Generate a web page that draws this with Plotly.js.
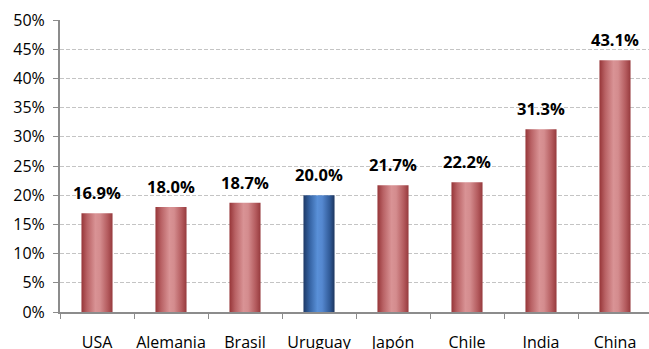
<!DOCTYPE html>
<html>
<head>
<meta charset="utf-8">
<script src="https://cdn.plot.ly/plotly-3.0.1.min.js"></script>
<style>
  html, body { margin: 0; padding: 0; overflow: hidden; background: #fff; }
  #chart { width: 652px; height: 349px; }
</style>
</head>
<body>
<div id="chart"></div>
<script>
// Country categories and their percentage values
const countries = ['USA', 'Alemania', 'Brasil', 'Uruguay', 'Japón', 'Chile', 'India', 'China'];
const values = [16.9, 18.0, 18.7, 20.0, 21.7, 22.2, 31.3, 43.1];
const highlight = 'Uruguay';
const yTickVals = [0, 5, 10, 15, 20, 25, 30, 35, 40, 45, 50];
const yTickText = yTickVals.map(v => v + '%');

const fontFamily = '"Open Sans", Lato, "DejaVu Sans", sans-serif';

const barColors = countries.map(c => c === highlight ? '#3c6fb4' : '#b85a5c');

const trace = {
  type: 'bar',
  x: countries,
  y: values,
  width: 0.42,
  marker: { color: barColors, line: { width: 0 } },
  hoverinfo: 'skip'
};

const annotations = countries.map((c, i) => ({
  x: c,
  y: values[i],
  xref: 'x',
  yref: 'y',
  text: '<b>' + values[i].toFixed(1) + '%</b>',
  showarrow: false,
  yanchor: 'bottom',
  yshift: 7,
  font: { family: fontFamily, size: 16.5, color: '#000' }
}));

const layout = {
  width: 652,
  height: 349,
  margin: { l: 60, r: 0, t: 20, b: 37 },
  paper_bgcolor: '#fff',
  plot_bgcolor: '#fff',
  showlegend: false,
  xaxis: {
    type: 'category',
    range: [-0.5, 7.5],
    showline: true,
    linecolor: '#8c8c8c',
    linewidth: 2,
    ticks: 'outside',
    tickson: 'boundaries',
    ticklen: 5,
    tickcolor: '#8c8c8c',
    tickwidth: 1,
    tickangle: 0,
    ticklabelstandoff: 15,
    showgrid: false,
    zeroline: false,
    tickfont: { family: fontFamily, size: 16, color: '#000' },
    fixedrange: true
  },
  yaxis: {
    range: [0, 50],
    tickvals: yTickVals,
    ticktext: yTickText,
    showline: true,
    linecolor: '#8c8c8c',
    linewidth: 2,
    ticks: 'outside',
    ticklen: 5,
    tickcolor: '#8c8c8c',
    tickwidth: 1,
    ticklabelstandoff: 5,
    showgrid: true,
    gridcolor: '#c4c4c4',
    griddash: '4px,2px',
    gridwidth: 1,
    zeroline: false,
    tickfont: { family: fontFamily, size: 16, color: '#000' },
    fixedrange: true
  },
  annotations: annotations
};

Plotly.newPlot('chart', [trace], layout, { displayModeBar: false, staticPlot: true }).then(gd => {
  // Give the bars a cylinder-like horizontal shading
  const svg = gd.querySelector('svg.main-svg');
  const ns = 'http://www.w3.org/2000/svg';
  let defs = svg.querySelector('defs');
  if (!defs) { defs = document.createElementNS(ns, 'defs'); svg.insertBefore(defs, svg.firstChild); }
  const makeGrad = (id, stops) => {
    const g = document.createElementNS(ns, 'linearGradient');
    g.setAttribute('id', id);
    g.setAttribute('x1', '0'); g.setAttribute('y1', '0');
    g.setAttribute('x2', '1'); g.setAttribute('y2', '0');
    stops.forEach(([off, col]) => {
      const s = document.createElementNS(ns, 'stop');
      s.setAttribute('offset', off);
      s.setAttribute('stop-color', col);
      g.appendChild(s);
    });
    defs.appendChild(g);
  };
  makeGrad('gradRed', [['0', '#963538'], ['0.18', '#b86164'], ['0.45', '#d99395'], ['0.6', '#d48c8e'], ['0.85', '#b35a5d'], ['1', '#963a3d']]);
  makeGrad('gradBlue', [['0', '#1d3966'], ['0.2', '#3563a3'], ['0.45', '#5990d8'], ['0.6', '#5588d0'], ['0.85', '#305a97'], ['1', '#1c355e']]);
  gd.querySelectorAll('.bars .point path').forEach((p, i) => {
    const url = countries[i] === highlight ? 'url(#gradBlue)' : 'url(#gradRed)';
    p.style.fill = url;
  });
});
</script>
</body>
</html>
